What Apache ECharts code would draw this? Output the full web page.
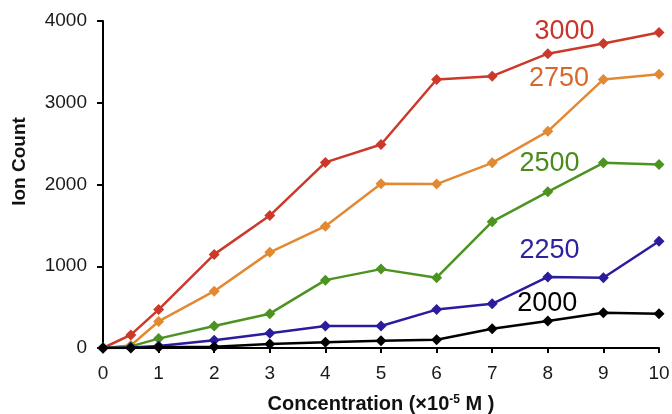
<!DOCTYPE html>
<html>
<head>
<meta charset="utf-8">
<script src="https://cdn.jsdelivr.net/npm/echarts@6/dist/echarts.min.js"></script>
<style>html,body{margin:0;padding:0;background:#fff}#c{width:672px;height:414px}</style>
</head>
<body>
<div id="c"></div>
<script>
var concentrations = [0, 0.5, 1, 2, 3, 4, 5, 6, 7, 8, 9, 10];
var s3000 = [0, 160, 470, 1145, 1620, 2270, 2490, 3285, 3325, 3600, 3725, 3860];
var s2750 = [0, 30, 325, 695, 1170, 1490, 2010, 2005, 2265, 2650, 3285, 3350];
var s2500 = [0, 20, 115, 270, 420, 830, 965, 860, 1545, 1910, 2265, 2245];
var s2250 = [0, 5, 25, 95, 180, 270, 270, 470, 540, 870, 860, 1305];
var s2000 = [0, 0, 10, 15, 50, 70, 90, 100, 235, 330, 430, 420];
var seriesNames = ['3000', '2750', '2500', '2250', '2000'];
var seriesColors = ['#cc392b', '#e28a33', '#4c9321', '#2a1c9c', '#000000'];
var labelColors = ['#c8352b', '#d8672c', '#4a8c1c', '#2d239f', '#000000'];
var labelPos = [[8.3, 3870], [8.2, 3300], [8.03, 2262], [8.03, 1195], [7.99, 545]];
var xTicks = [0,1,2,3,4,5,6,7,8,9,10];
var yTicks = [0,1000,2000,3000,4000];

var values = [s3000, s2750, s2500, s2250, s2000];
var FONT = '"Liberation Sans", Arial, sans-serif';
var chart = echarts.init(document.getElementById('c'), null, {renderer:'canvas'});
var series = values.map(function(v, i){
  return {
    name: seriesNames[i],
    type: 'line',
    data: v.map(function(y, k){ return [concentrations[k], y]; }),
    symbol: 'diamond',
    symbolSize: 11,
    lineStyle: {color: seriesColors[i], width: 2.5},
    itemStyle: {color: seriesColors[i]},
    z: 2 + i,
    animation: false,
    markPoint: {
      symbol: 'circle', symbolSize: 1,
      itemStyle: {color: 'rgba(0,0,0,0)'},
      label: {show: true, position: 'inside', formatter: seriesNames[i], color: labelColors[i], fontSize: 27, fontFamily: FONT},
      data: [{coord: labelPos[i]}]
    }
  };
});
chart.setOption({
  animation: false,
  grid: {left: 103, right: 13, top: 21, bottom: 66, containLabel: false, outerBoundsMode: 'none'},
  xAxis: {
    type: 'value', min: 0, max: 10, interval: 1,
    axisLine: {lineStyle: {color: '#000', width: 2}},
    axisTick: {show: true, length: 5, lineStyle: {color: '#000', width: 2}},
    axisLabel: {color: '#1a1a1a', fontSize: 19, fontFamily: FONT, margin: 16,
      formatter: function(v){ return xTicks.indexOf(v) >= 0 ? String(v) : ''; }},
    splitLine: {show: false},
    name: 'Concentration (×10{sup|-5} M )',
    nameLocation: 'middle', nameGap: 46,
    nameTextStyle: {color: '#111', fontSize: 20, fontWeight: 'bold', fontFamily: FONT,
      rich: {sup: {fontSize: 12, fontWeight: 'bold', fontFamily: FONT, verticalAlign: 'top', padding: [0,0,9,0], color:'#111'}}}
  },
  yAxis: {
    type: 'value', min: 0, max: 4000, interval: 1000,
    axisLine: {show: true, lineStyle: {color: '#000', width: 2}},
    axisTick: {show: true, length: 6, lineStyle: {color: '#000', width: 2}},
    axisLabel: {color: '#1a1a1a', fontSize: 19, fontFamily: FONT, margin: 16,
      formatter: function(v){ return yTicks.indexOf(v) >= 0 ? String(v) : ''; }},
    splitLine: {show: false},
    name: 'Ion Count', nameLocation: 'middle', nameGap: 74,
    nameTextStyle: {color: '#111', fontSize: 19, fontWeight: 'bold', fontFamily: FONT, padding: [0, 0, 0, 46]}
  },
  series: series
});
</script>
</body>
</html>
